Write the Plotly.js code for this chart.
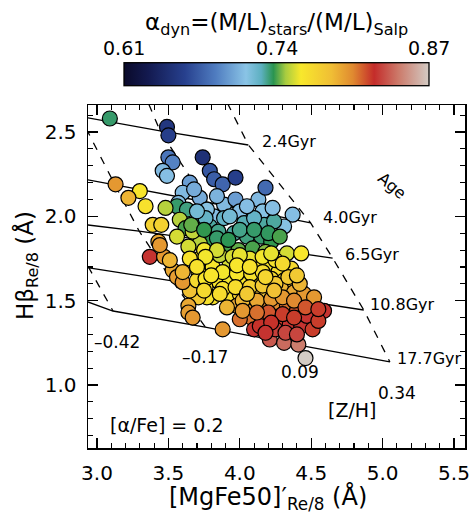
<!DOCTYPE html>
<html>
<head>
<meta charset="utf-8">
<script src="https://cdn.plot.ly/plotly-3.0.1.min.js"></script>
<style>html,body{margin:0;padding:0;background:#fff;}</style>
</head>
<body>
<div id="chart" style="width:472px;height:518px;"></div>
<script>
// Galaxy measurements: index strengths and dynamical mass-to-light ratio
const mgfe = [
  3.09, 3.49, 3.50, 3.50, 3.53, 3.46, 3.49, 3.74, 3.79, 3.82, 3.88, 3.97, 3.65, 3.60, 3.72, 3.89,
  3.97, 4.13, 4.18, 4.16, 4.00, 3.82, 4.37, 4.31, 3.57, 3.77, 3.56, 3.63, 3.48, 3.34, 3.30, 3.22,
  3.13, 3.39, 3.45, 3.43, 3.37, 3.47, 3.58, 3.62, 3.69, 3.72, 3.79, 3.85, 3.96, 4.05, 4.15, 4.22,
  4.33, 4.43, 3.89, 4.03, 4.17, 3.81, 3.90, 3.99, 4.09, 4.18, 3.72, 3.64, 3.56, 3.67, 3.72, 3.80,
  3.81, 3.93, 4.03, 4.12, 4.20, 4.27, 4.36, 3.84, 3.93, 4.03, 4.12, 4.22, 4.31, 4.38, 3.81, 3.91,
  4.00, 4.10, 4.19, 4.29, 4.38, 4.45, 4.52, 3.71, 3.65, 3.75, 3.77, 3.71, 3.65, 3.64, 3.64, 3.67,
  3.53, 3.56, 3.60, 3.60, 3.70, 3.44, 3.51, 4.05, 4.14, 4.24, 4.33, 4.40, 3.98, 3.91, 4.08, 4.17,
  4.27, 4.35, 4.43, 4.47, 4.59, 4.10, 4.21, 4.31, 4.41, 4.46, 3.88, 4.00, 4.51, 4.55, 3.86, 3.95,
  4.07, 4.16, 4.25, 3.88, 3.98, 4.08, 4.16, 3.76, 3.88, 3.97, 4.07, 4.16, 4.25, 4.34, 4.42, 4.02,
  4.12, 4.22, 4.30, 4.38, 4.20, 4.30, 4.38, 4.14, 4.25, 4.02, 3.76,
  3.76, 3.93, 4.10, 4.24, 3.84, 3.92, 4.00, 4.10, 4.20, 4.28, 3.66, 3.75, 3.68, 3.84, 4.05, 4.23,
  3.70, 3.84, 4.00, 4.22, 4.30, 3.76, 3.70, 3.98, 4.07, 3.80, 4.18, 4.40, 3.86, 4.05, 4.24, 3.75,
  4.12, 4.46, 4.22, 4.32, 4.40, 4.18, 4.55
];
const hbeta = [
  2.58, 2.53, 2.48, 2.35, 2.32, 2.27, 2.24, 2.35, 2.27, 2.22, 2.19, 2.23, 2.20, 2.14, 2.11, 2.07,
  2.10, 2.10, 2.17, 2.03, 2.03, 2.00, 2.01, 1.94, 2.08, 2.04, 2.06, 2.04, 2.05, 2.06, 2.15, 2.11,
  2.19, 1.95, 1.95, 1.85, 1.76, 1.76, 1.98, 1.93, 1.89, 1.97, 1.94, 1.91, 1.90, 1.88, 1.88, 1.85,
  1.78, 1.78, 1.99, 1.96, 1.95, 1.86, 1.81, 1.80, 1.81, 1.79, 1.84, 1.82, 1.88, 1.91, 1.75, 1.73,
  1.70, 1.72, 1.70, 1.72, 1.70, 1.67, 1.69, 1.62, 1.62, 1.63, 1.62, 1.63, 1.62, 1.59, 1.52, 1.53,
  1.54, 1.53, 1.55, 1.57, 1.55, 1.54, 1.52, 1.67, 1.75, 1.80, 1.52, 1.52, 1.56, 1.47, 1.43, 1.40,
  1.68, 1.64, 1.61, 1.67, 1.62, 1.83, 1.74, 1.46, 1.46, 1.49, 1.47, 1.44, 1.47, 1.46, 1.40, 1.40,
  1.39, 1.36, 1.35, 1.41, 1.44, 1.33, 1.27, 1.25, 1.24, 1.16, 1.33, 1.39, 1.33, 1.38, 1.77, 1.76,
  1.75, 1.76, 1.74, 1.67, 1.66, 1.66, 1.67, 1.58, 1.57, 1.58, 1.58, 1.59, 1.60, 1.64, 1.60, 1.50,
  1.50, 1.51, 1.52, 1.50, 1.43, 1.42, 1.40, 1.35, 1.33, 1.44, 1.63,
  1.99, 2.00, 1.99, 1.97, 1.87, 1.86, 1.92, 1.92, 1.90, 1.88, 1.95, 1.92, 2.16, 2.12, 2.06, 2.05,
  2.03, 1.80, 1.77, 1.78, 1.72, 1.76, 1.70, 1.71, 1.70, 1.65, 1.64, 1.65, 1.54, 1.54, 1.56, 1.56,
  1.43, 1.46, 1.37, 1.31, 1.30, 1.31, 1.45
];
const alphaDyn = [
  0.735, 0.655, 0.660, 0.685, 0.690, 0.710, 0.712, 0.650, 0.672, 0.675, 0.678, 0.660, 0.700, 0.710, 0.705, 0.710,
  0.700, 0.710, 0.680, 0.715, 0.712, 0.712, 0.712, 0.715, 0.712, 0.715, 0.735, 0.733, 0.750, 0.765, 0.762, 0.790,
  0.800, 0.775, 0.775, 0.795, 0.825, 0.800, 0.750, 0.740, 0.748, 0.730, 0.730, 0.732, 0.730, 0.733, 0.735, 0.738,
  0.755, 0.762, 0.725, 0.728, 0.730, 0.738, 0.740, 0.742, 0.740, 0.745, 0.750, 0.755, 0.755, 0.752, 0.762, 0.760,
  0.762, 0.755, 0.760, 0.762, 0.765, 0.768, 0.770, 0.762, 0.760, 0.762, 0.765, 0.770, 0.775, 0.785, 0.765, 0.765,
  0.775, 0.785, 0.785, 0.790, 0.795, 0.800, 0.800, 0.762, 0.765, 0.760, 0.765, 0.780, 0.785, 0.795, 0.798, 0.800,
  0.795, 0.798, 0.800, 0.790, 0.770, 0.800, 0.790, 0.800, 0.805, 0.805, 0.810, 0.815, 0.795, 0.790, 0.810, 0.810,
  0.820, 0.825, 0.825, 0.825, 0.825, 0.825, 0.835, 0.840, 0.845, 0.870, 0.800, 0.810, 0.820, 0.820, 0.752, 0.755,
  0.758, 0.760, 0.765, 0.760, 0.762, 0.765, 0.768, 0.765, 0.765, 0.768, 0.775, 0.780, 0.780, 0.780, 0.790, 0.790,
  0.795, 0.800, 0.800, 0.805, 0.815, 0.820, 0.820, 0.822, 0.828, 0.800, 0.762,
  0.725, 0.720, 0.725, 0.730, 0.735, 0.737, 0.732, 0.735, 0.736, 0.740, 0.742, 0.738, 0.705, 0.708, 0.712, 0.712,
  0.720, 0.755, 0.758, 0.758, 0.770, 0.760, 0.765, 0.762, 0.765, 0.762, 0.772, 0.780, 0.768, 0.780, 0.785, 0.770,
  0.810, 0.815, 0.822, 0.830, 0.830, 0.825, 0.820
];

// SSP model grid: one row per age, one column per total metallicity
const ages = [1.4, 2.4, 4.0, 6.5, 10.8, 17.7];
const ageLabels = ['', '2.4Gyr', '4.0Gyr', '6.5Gyr', '10.8Gyr', '17.7Gyr'];
const metallicities = [-0.71, -0.42, -0.17, 0.09, 0.34];
const metLabels = ['', '–0.42', '–0.17', '0.09', '0.34'];
const gridMgFe = [
  [1.600, 1.897, 2.635, 3.232, 3.762],
  [1.950, 2.249, 2.881, 3.442, 4.060],
  [2.100, 2.530, 3.126, 3.765, 4.496],
  [2.300, 2.705, 3.295, 3.955, 4.650],
  [2.320, 2.944, 3.527, 4.187, 4.868],
  [2.530, 3.112, 3.758, 4.412, 5.051]
];
const gridHbeta = [
  [3.100, 3.045, 2.927, 2.927, 2.927],
  [2.780, 2.690, 2.592, 2.506, 2.423],
  [2.380, 2.281, 2.186, 2.085, 1.961],
  [2.030, 1.972, 1.913, 1.836, 1.753],
  [1.850, 1.694, 1.617, 1.534, 1.445],
  [1.617, 1.439, 1.344, 1.237, 1.137]
];

const FONT = 'DejaVu Sans, Liberation Sans, sans-serif';
const colorscale = [
  [0.00, '#0a0a2a'], [0.08, '#131a50'], [0.20, '#27408e'], [0.30, '#4f7cc0'],
  [0.40, '#8ac4e6'], [0.45, '#5db0c0'], [0.49, '#2a9450'], [0.53, '#a8cc40'],
  [0.58, '#f8e82c'], [0.68, '#f0be35'], [0.75, '#e08a30'], [0.82, '#c42c2a'],
  [0.90, '#cc7a6a'], [1.00, '#d3cbc4']
];
const cMin = 0.61, cMax = 0.87;

const traces = [];
// iso-age lines (solid)
gridMgFe.forEach((row, i) => {
  traces.push({
    type: 'scatter', mode: 'lines', x: row, y: gridHbeta[i],
    line: {color: '#000', width: 1.3}, hoverinfo: 'skip', showlegend: false
  });
});
// iso-metallicity lines (dashed)
metallicities.forEach((z, j) => {
  traces.push({
    type: 'scatter', mode: 'lines',
    x: gridMgFe.map(r => r[j]), y: gridHbeta.map(r => r[j]),
    line: {color: '#000', width: 1.3, dash: '8px,8px'}, hoverinfo: 'skip', showlegend: false
  });
});
// galaxies coloured by alpha_dyn
const barLen = 0.809;
traces.push({
  type: 'scatter', mode: 'markers', x: mgfe, y: hbeta, showlegend: false,
  marker: {
    size: 15, color: alphaDyn, cmin: cMin, cmax: cMax, colorscale: colorscale,
    line: {color: '#000', width: 1.2},
    colorbar: {
      orientation: 'h', x: 0.5, xanchor: 'center', y: 1.0525, yanchor: 'bottom',
      len: barLen, lenmode: 'fraction', thickness: 23, thicknessmode: 'pixels',
      xpad: 0, ypad: 0, outlinewidth: 1.3, outlinecolor: '#000',
      showticklabels: false, ticks: ''
    }
  }
});

// pixel helpers for paper-referenced text
const PL = 88, PT = 105, PW = 377, PH = 343;
const paperX = (v) => (v - PL) / PW;
const paperY = (v) => (PT + PH - v) / PH;
const txt = (o) => Object.assign({showarrow: false, xanchor: 'center', yanchor: 'middle'}, o);

const annotations = [];
const ageShift = [[0, 0], [12, 3], [10, 5], [10, 4], [4, 5], [5, 3]];
ageLabels.forEach((t, i) => {
  if (!t) return;
  annotations.push(txt({
    x: gridMgFe[i][4], y: gridHbeta[i][4], text: t,
    xanchor: 'left', xshift: ageShift[i][0], yshift: ageShift[i][1],
    font: {family: FONT, size: 16, color: '#000'}
  }));
});
const metShift = [[0, 0], [4, -31], [0, -30], [1, -27], [7, -31]];
const last = gridMgFe.length - 1;
metLabels.forEach((t, j) => {
  if (!t) return;
  annotations.push(txt({
    x: gridMgFe[last][j], y: gridHbeta[last][j], text: t,
    xshift: metShift[j][0], yshift: metShift[j][1],
    font: {family: FONT, size: 17, color: '#000'}
  }));
});
annotations.push(
  txt({xref: 'paper', yref: 'paper', x: paperX(352), y: paperY(410), text: '[Z/H]',
       font: {family: FONT, size: 19, color: '#000'}}),
  txt({xref: 'paper', yref: 'paper', x: paperX(392), y: paperY(185), text: 'Age',
       textangle: 40, font: {family: FONT, size: 16, color: '#000'}}),
  txt({xref: 'paper', yref: 'paper', x: paperX(167), y: paperY(425), text: '[α/Fe] = 0.2',
       font: {family: FONT, size: 19, color: '#000'}}),
  // axis titles
  txt({xref: 'paper', yref: 'paper', x: paperX(268), y: paperY(498),
       text: '[MgFe50]′<sub>Re/8</sub> (Å)', font: {family: FONT, size: 24, color: '#000'}}),
  txt({xref: 'paper', yref: 'paper', x: paperX(26), y: paperY(266), textangle: -90,
       text: 'Hβ<sub>Re/8</sub> (Å)', font: {family: FONT, size: 23, color: '#000'}}),
  // colour bar title
  txt({xref: 'paper', yref: 'paper', x: 0.5, y: paperY(24),
       text: 'α<sub>dyn</sub>=(M/L)<sub>stars</sub>/(M/L)<sub>Salp</sub>',
       font: {family: FONT, size: 23, color: '#000'}})
);
[cMin, 0.74, cMax].forEach(v => {
  const f = (v - cMin) / (cMax - cMin);
  annotations.push(txt({
    xref: 'paper', yref: 'paper', x: 0.5 + (f - 0.5) * barLen, y: paperY(48),
    text: v.toFixed(2), font: {family: FONT, size: 19, color: '#000'}
  }));
});

// colour bar tick marks along the top edge
const shapes = [0.25, 0.5, 0.75].map(f => ({
  type: 'line', xref: 'paper', yref: 'paper',
  x0: 0.5 + (f - 0.5) * barLen, x1: 0.5 + (f - 0.5) * barLen,
  y0: paperY(64), y1: paperY(70),
  line: {color: '#000', width: 1.3}
}));

const axisCommon = {
  showgrid: false, zeroline: false, showline: true, linecolor: '#000', linewidth: 1.5,
  mirror: 'allticks', ticks: 'inside', ticklen: 10, tickwidth: 1.3, tickcolor: '#000',
  dtick: 0.5, tickformat: '.1f',
  tickfont: {family: FONT, size: 20, color: '#000'},
  minor: {dtick: 0.1, ticks: 'inside', ticklen: 5, tickwidth: 1.1, tickcolor: '#000'}
};

const layout = {
  width: 472, height: 518,
  margin: {l: PL, r: 472 - PL - PW, t: PT, b: 518 - PT - PH},
  paper_bgcolor: '#fff', plot_bgcolor: '#fff',
  showlegend: false,
  xaxis: Object.assign({}, axisCommon, {range: [2.937, 5.577], tick0: 3.0, ticklabelstandoff: 6}),
  yaxis: Object.assign({}, axisCommon, {range: [0.627, 2.66], tick0: 1.0, ticklabelstandoff: 6}),
  annotations: annotations,
  shapes: shapes
};

Plotly.newPlot('chart', traces, layout, {staticPlot: true, displayModeBar: false});
</script>
</body>
</html>
